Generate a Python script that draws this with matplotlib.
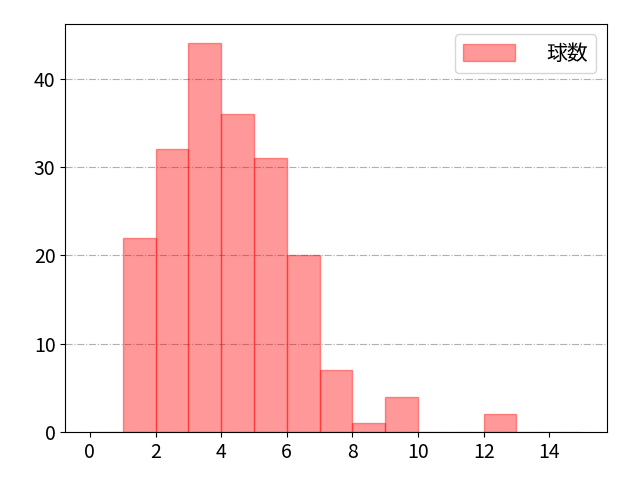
import matplotlib
matplotlib.use('Agg')
import matplotlib.pyplot as plt
import numpy as np

plt.rcParams['font.family'] = ['Noto Sans CJK JP', 'DejaVu Sans']

# 各ビンの左端と度数
bin_edges = list(range(0, 16))
bin_left = list(range(0, 15))
counts = [0, 22, 32, 44, 36, 31, 20, 7, 1, 4, 0, 0, 2, 0, 0]
label = '球数'

fig, ax = plt.subplots(figsize=(6.4, 4.8), dpi=100)
ax.hist(bin_left, bins=bin_edges, weights=counts, color='red', alpha=0.4,
        edgecolor='red', linewidth=1, label=label)
ax.grid(axis='y', linestyle='-.', color='#b0b0b0', linewidth=0.8)
ax.set_axisbelow(True)
ax.set_xticks([0, 2, 4, 6, 8, 10, 12, 14])
ax.tick_params(labelsize=14)
ax.legend(fontsize=15, loc='upper right', handlelength=2.5, handleheight=0.9,
          handletextpad=1.5)
fig.subplots_adjust(left=0.102, right=0.948, top=0.95, bottom=0.1)
plt.savefig('out.png')
